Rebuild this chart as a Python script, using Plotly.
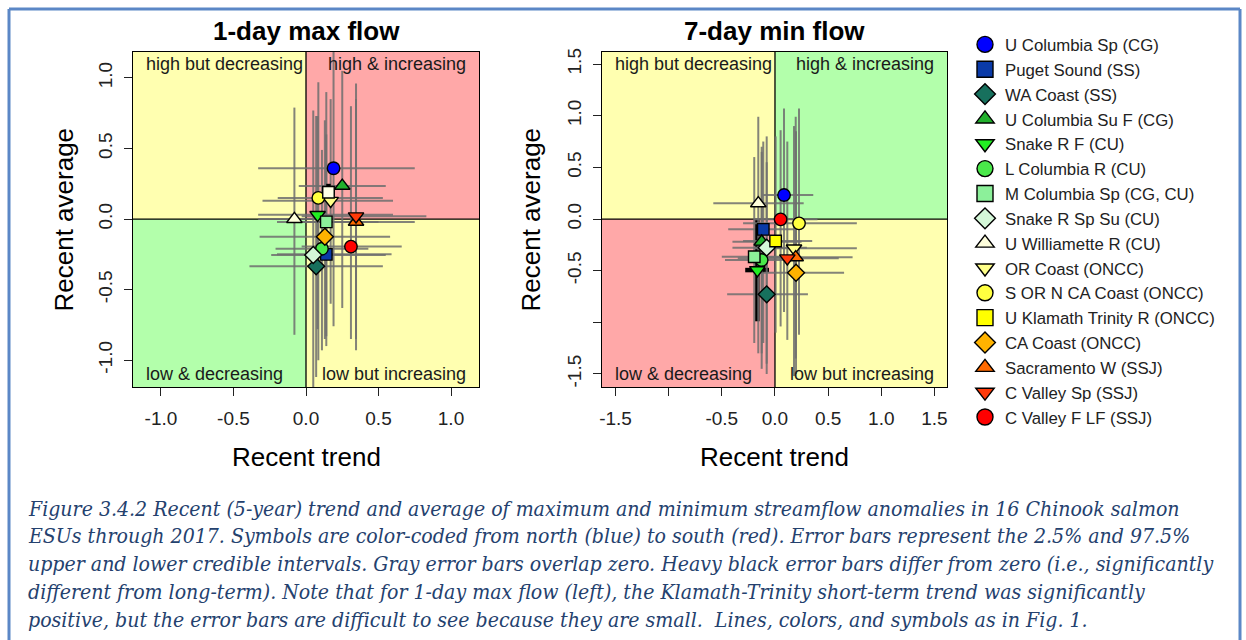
import plotly.graph_objects as go

# ---------------- data ----------------
names = ["U Columbia Sp (CG)", "Puget Sound (SS)", "WA Coast (SS)", "U Columbia Su F (CG)",
         "Snake R F (CU)", "L Columbia R (CU)", "M Columbia Sp (CG, CU)", "Snake R Sp Su (CU)",
         "U Williamette R (CU)", "OR Coast (ONCC)", "S OR N CA Coast (ONCC)",
         "U Klamath Trinity R (ONCC)", "CA Coast (ONCC)", "Sacramento W (SSJ)",
         "C Valley Sp (SSJ)", "C Valley F LF (SSJ)"]
symbols = ["circle", "square", "diamond", "triangle-up", "triangle-down", "circle", "square",
           "diamond", "triangle-up", "triangle-down", "circle", "square", "diamond",
           "triangle-up", "triangle-down", "circle"]
colors = ["#0000FF", "#0A3AA8", "#17705D", "#22B02C", "#22EE22", "#4AE84A", "#8CF09A",
          "#D4F7D8", "#FFFFDC", "#FFFF88", "#FFFF40", "#FFFF00", "#FFB300", "#FF6A00",
          "#FF3A0A", "#FF0000"]

# 1-day max flow (left panel)
max_trend = [0.19, 0.14, 0.07, 0.25, 0.08, 0.11, 0.14, 0.05, -0.08, 0.17, 0.085, 0.155, 0.13, 0.345, 0.345, 0.31]
max_avg = [0.36, -0.25, -0.335, 0.235, 0.03, -0.21, -0.02, -0.255, 0.0, 0.13, 0.15, 0.19, -0.125, -0.02, 0.02, -0.195]
max_trend_lo = [-0.33, -0.20, -0.39, -0.05, -0.33, -0.21, -0.20, -0.24, -0.33, -0.30, -0.195, 0.11, -0.32, -0.05, -0.03, -0.03]
max_trend_hi = [0.75, 0.59, 0.53, 0.55, 0.60, 0.43, 0.50, 0.55, 0.15, 0.60, 0.53, 0.20, 0.58, 0.75, 0.83, 0.66]
max_avg_lo = [-0.76, -0.90, -1.12, -0.63, -0.78, -0.93, -0.83, -1.35, -0.82, -0.60, -1.00, 0.13, -0.85, -0.85, -0.93, -0.85]
max_avg_hi = [1.25, 0.60, 0.73, 1.05, 0.73, 0.49, 0.90, 0.77, 0.79, 0.85, 0.97, 0.25, 0.70, 0.85, 0.96, 0.80]
max_signif = [False] * 11 + [True] + [False] * 4

# 7-day min flow (right panel)
min_trend = [0.085, -0.11, -0.078, -0.125, -0.166, -0.125, -0.195, -0.078, -0.157, 0.179, 0.226, 0.006, 0.198, 0.195, 0.116, 0.053]
min_avg = [0.232, -0.10, -0.729, -0.22, -0.494, -0.397, -0.365, -0.277, 0.152, -0.284, -0.042, -0.213, -0.52, -0.371, -0.38, -0.003]
min_trend_lo = [-0.11, -0.44, -0.45, -0.40, -0.28, -0.47, -0.50, -0.40, -0.58, -0.20, -0.30, -0.30, -0.11, -0.25, -0.35, -0.20]
min_trend_hi = [0.36, 0.18, 0.31, 0.25, -0.056, 0.20, 0.15, 0.30, 0.27, 0.77, 0.77, 0.35, 0.65, 0.73, 0.60, 0.40]
min_avg_lo = [-0.90, -1.20, -1.50, -1.30, -0.99, -1.45, -1.20, -1.40, -1.30, -1.52, -1.12, -1.10, -1.50, -1.35, -1.17, -1.04]
min_avg_hi = [1.07, 0.75, 0.55, 0.70, -0.01, 0.65, 0.60, 0.80, 0.99, 0.90, 1.07, 0.80, 0.85, 0.99, 0.75, 0.86]
min_signif = [False] * 4 + [True] + [False] * 11

quad_labels = ["high but decreasing", "high & increasing", "low & decreasing", "low but increasing"]
caption_lines = [
    "Figure 3.4.2 Recent (5-year) trend and average of maximum and minimum streamflow anomalies in 16 Chinook salmon",
    "ESUs through 2017. Symbols are color-coded from north (blue) to south (red). Error bars represent the 2.5% and 97.5%",
    "upper and lower credible intervals. Gray error bars overlap zero. Heavy black error bars differ from zero (i.e., significantly",
    "different from long-term). Note that for 1-day max flow (left), the Klamath-Trinity short-term trend was significantly",
    "positive, but the error bars are difficult to see because they are small.  Lines, colors, and symbols as in Fig. 1.",
]

# ---------------- styling ----------------
W, H = 1246, 640
SANS = "Liberation Sans, Arial, Helvetica, sans-serif"
SIZE = {"circle": 12.5, "square": 11.5, "diamond": 13, "triangle-up": 13.5, "triangle-down": 13.5}
YELLOW, PINK, GREEN = "#FFFFB0", "#FFA8A8", "#B3FFAB"

def px_x(p):
    return p / W

def px_y(p):
    return 1 - p / H

panels = [
    dict(xa="x", ya="y", trend=max_trend, avg=max_avg, tlo=max_trend_lo, thi=max_trend_hi,
         alo=max_avg_lo, ahi=max_avg_hi, sig=max_signif, box=(133, 479, 52, 387),
         xr=[-1.193, 1.193], yr=[-1.19, 1.184],
         ticks=[-1.0, -0.5, 0.0, 0.5, 1.0], ticktext=["-1.0", "-0.5", "0.0", "0.5", "1.0"],
         quad=[YELLOW, PINK, GREEN, YELLOW], title="1-day max flow", ytitle_x=63),
    dict(xa="x2", ya="y2", trend=min_trend, avg=min_avg, tlo=min_trend_lo, thi=min_trend_hi,
         alo=min_avg_lo, ahi=min_avg_hi, sig=min_signif, box=(602, 947, 52, 387),
         xr=[-1.627, 1.618], yr=[-1.626, 1.617],
         ticks=[-1.5, -1.0, -0.5, 0.0, 0.5, 1.0, 1.5], ticktext=["-1.5", "", "-0.5", "0.0", "0.5", "1.0", "1.5"],
         quad=[YELLOW, GREEN, PINK, YELLOW], title="7-day min flow", ytitle_x=530),
]

fig = go.Figure()
shapes = []
annotations = []

# error bars first (drawn under all symbols, as in the original)
for p in panels:
    for i in range(len(names)):
        sig = p["sig"][i]
        ecol = "black" if sig else "rgba(110,110,110,0.85)"
        thick = 4.5 if sig else 2
        fig.add_trace(go.Scatter(
            x=[p["trend"][i]], y=[p["avg"][i]], xaxis=p["xa"], yaxis=p["ya"],
            mode="markers", marker=dict(size=2, opacity=0), showlegend=False, hoverinfo="skip",
            error_x=dict(type="data", symmetric=False, array=[p["thi"][i] - p["trend"][i]],
                         arrayminus=[p["trend"][i] - p["tlo"][i]], color=ecol, thickness=thick, width=0),
            error_y=dict(type="data", symmetric=False, array=[p["ahi"][i] - p["avg"][i]],
                         arrayminus=[p["avg"][i] - p["alo"][i]], color=ecol, thickness=thick, width=0),
        ))

# symbols
for k, p in enumerate(panels):
    for i in range(len(names)):
        col = colors[i]
        if k == 0 and i == 11:
            col = "#FFFFE6"
        fig.add_trace(go.Scatter(
            x=[p["trend"][i]], y=[p["avg"][i]], xaxis=p["xa"], yaxis=p["ya"],
            mode="markers", name=names[i], legendgroup=names[i], showlegend=False,
            marker=dict(symbol=symbols[i], color=col, size=SIZE[symbols[i]],
                        line=dict(color="black", width=1.4)),
        ))

# legend entries
for i in range(len(names)):
    fig.add_trace(go.Scatter(
        x=[None], y=[None], mode="markers", name=names[i], legendgroup=names[i], showlegend=True,
        marker=dict(symbol=symbols[i], color=colors[i], size=16, line=dict(color="black", width=1.4)),
    ))

for p in panels:
    x0, x1, y0, y1 = p["box"]
    xa, ya = p["xa"], p["ya"]
    big = 10
    rects = [(-big, 0, 0, big), (0, big, 0, big), (-big, 0, -big, 0), (0, big, -big, 0)]
    for (a, b, c, d), fc in zip(rects, p["quad"]):
        shapes.append(dict(type="rect", xref=xa, yref=ya, x0=a, x1=b, y0=c, y1=d,
                           fillcolor=fc, line=dict(width=0), layer="below"))
    shapes.append(dict(type="line", xref=xa, yref=ya, x0=0, x1=0, y0=-big, y1=big,
                       line=dict(color="black", width=1.3), layer="below"))
    shapes.append(dict(type="line", xref=xa, yref=ya, x0=-big, x1=big, y0=0, y1=0,
                       line=dict(color="black", width=1.3), layer="below"))
    qfont = dict(family=SANS, size=18, color="#1a1a1a")
    annotations += [
        dict(text=quad_labels[0], x=px_x(x0 + 11), y=px_y(y0 + 12), xref="paper", yref="paper",
             xanchor="left", yanchor="middle", showarrow=False, font=qfont),
        dict(text=quad_labels[1], x=px_x(x1 - 11), y=px_y(y0 + 12), xref="paper", yref="paper",
             xanchor="right", yanchor="middle", showarrow=False, font=qfont),
        dict(text=quad_labels[2], x=px_x(x0 + 11), y=px_y(y1 - 13), xref="paper", yref="paper",
             xanchor="left", yanchor="middle", showarrow=False, font=qfont),
        dict(text=quad_labels[3], x=px_x(x1 - 11), y=px_y(y1 - 13), xref="paper", yref="paper",
             xanchor="right", yanchor="middle", showarrow=False, font=qfont),
    ]
    annotations.append(dict(text="<b>" + p["title"] + "</b>", x=px_x((x0 + x1) / 2), y=px_y(31),
                            xref="paper", yref="paper", showarrow=False, xanchor="center", yanchor="middle",
                            font=dict(family=SANS, size=26, color="black")))
    annotations.append(dict(text="Recent trend", x=px_x((x0 + x1) / 2), y=px_y(457),
                            xref="paper", yref="paper", showarrow=False, xanchor="center", yanchor="middle",
                            font=dict(family=SANS, size=26, color="black")))
    annotations.append(dict(text="Recent average", x=px_x(p["ytitle_x"]), y=px_y((y0 + y1) / 2),
                            xref="paper", yref="paper", showarrow=False, xanchor="center", yanchor="middle",
                            textangle=-90, font=dict(family=SANS, size=26, color="black")))

axis_common = dict(showgrid=False, zeroline=False, showline=True, mirror=True, linecolor="black",
                   linewidth=1.3, ticks="outside", ticklen=8, tickwidth=1.3, tickcolor="#222",
                   tickfont=dict(family=SANS, size=19, color="#222"), fixedrange=True)

layout_axes = {}
for k, p in enumerate(panels):
    x0, x1, y0, y1 = p["box"]
    sx = "" if k == 0 else "2"
    layout_axes["xaxis" + sx] = dict(axis_common, domain=[px_x(x0), px_x(x1)], range=p["xr"],
                                     tickvals=p["ticks"], ticktext=p["ticktext"], anchor="y" + sx,
                                     ticklabelstandoff=6)
    layout_axes["yaxis" + sx] = dict(axis_common, domain=[px_y(y1), px_y(y0)], range=p["yr"],
                                     tickvals=p["ticks"], ticktext=p["ticktext"], anchor="x" + sx,
                                     tickangle=-90, ticklabelstandoff=4)

# caption
for j, line in enumerate(caption_lines):
    annotations.append(dict(text="<i>" + line + "</i>", x=px_x(26), y=px_y(508 + j * 27.8),
                            xref="paper", yref="paper", showarrow=False, xanchor="left", yanchor="middle",
                            font=dict(family="DejaVu Serif Condensed, Liberation Serif, serif", size=21.1,
                                      color="#24416E")))

frame = dict(color="#5B87C6", width=3)
shapes += [
    dict(type="line", xref="paper", yref="paper", x0=px_x(9), x1=px_x(9), y0=0, y1=px_y(9), line=frame),
    dict(type="line", xref="paper", yref="paper", x0=px_x(1240), x1=px_x(1240), y0=0, y1=px_y(9), line=frame),
    dict(type="line", xref="paper", yref="paper", x0=px_x(9), x1=px_x(1240), y0=px_y(9), y1=px_y(9), line=frame),
]

fig.update_layout(
    width=W, height=H, margin=dict(l=0, r=0, t=0, b=0, autoexpand=False),
    paper_bgcolor="white", plot_bgcolor="white",
    shapes=shapes, annotations=annotations,
    legend=dict(x=px_x(965), y=px_y(27), xanchor="left", yanchor="top",
                font=dict(family=SANS, size=16.8, color="#222"), tracegroupgap=0,
                bgcolor="rgba(0,0,0,0)", itemclick=False, itemdoubleclick=False),
    showlegend=True,
    **layout_axes,
)

fig.write_html("out.html")
